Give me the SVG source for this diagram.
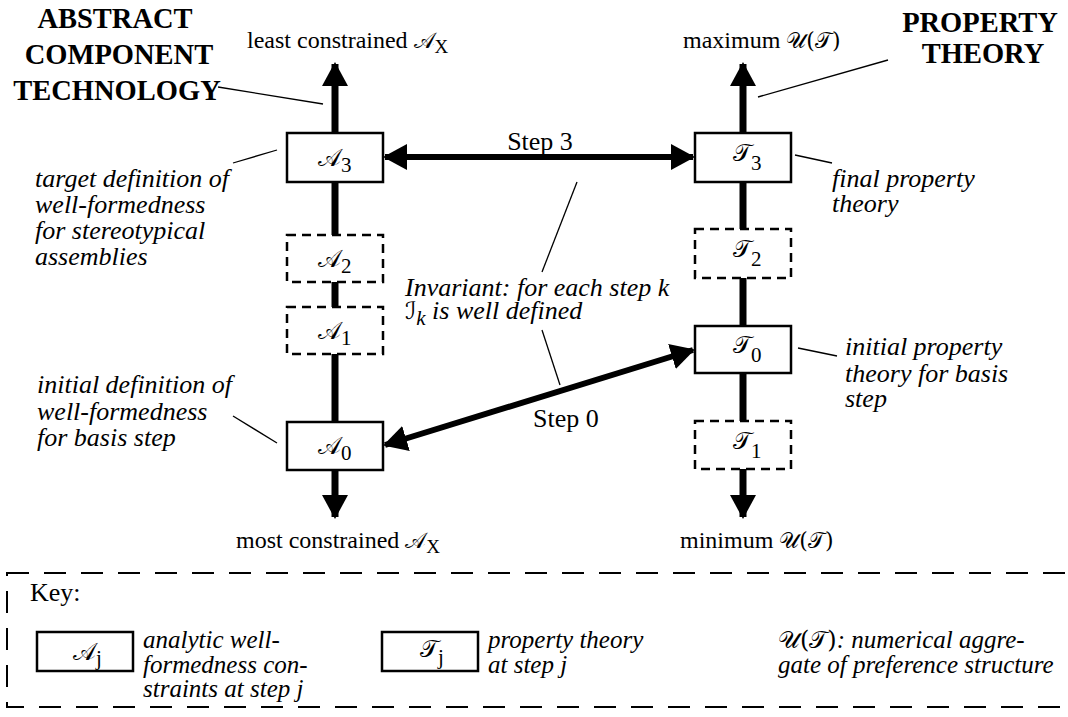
<svg xmlns="http://www.w3.org/2000/svg" width="1068" height="717" viewBox="0 0 1068 717">
<style>
  .box{fill:#fff;stroke:#000;stroke-width:2.5}
  .dbox{fill:#fff;stroke:#000;stroke-width:2.5;stroke-dasharray:9,6}
  .rm{font-family:"Liberation Serif","Times New Roman",serif;font-size:24px;fill:#000}
  .st{font-family:"Liberation Serif","Times New Roman",serif;font-size:26px;fill:#000}
  .it{font-family:"Liberation Serif","Times New Roman",serif;font-size:26px;font-style:italic;fill:#000}
  .itk{font-family:"Liberation Serif","Times New Roman",serif;font-size:25px;font-style:italic;fill:#000}
  .hd{font-family:"Liberation Serif","Times New Roman",serif;font-size:28.5px;font-weight:bold;fill:#000}
  .sc{font-family:"DejaVu Serif","DejaVu Sans",serif;font-size:24px;fill:#000;font-style:normal}
  .scs{font-family:"DejaVu Serif","DejaVu Sans",serif;font-size:22px;fill:#000;font-style:normal}
  .sub{font-family:"Liberation Serif","Times New Roman",serif;font-size:21px}
  .subs{font-family:"Liberation Serif","Times New Roman",serif;font-size:19px}
  .thick{stroke:#000;stroke-width:7;fill:none}
  .step{stroke:#000;stroke-width:6;fill:none}
  .lead{stroke:#000;stroke-width:1.3;fill:none}
</style>
<defs>
  <marker id="ah" markerUnits="userSpaceOnUse" markerWidth="24" markerHeight="26" refX="22" refY="13" orient="auto-start-reverse">
    <path d="M0,0 L24,13 L0,26 z" fill="#000"/>
  </marker>
</defs>

<g id="connectors">
  <line class="thick" x1="335" y1="133" x2="335" y2="64" marker-end="url(#ah)"/>
  <line class="thick" x1="335" y1="182" x2="335" y2="235"/>
  <line class="thick" x1="335" y1="282" x2="335" y2="307"/>
  <line class="thick" x1="335" y1="354" x2="335" y2="422"/>
  <line class="thick" x1="335" y1="470" x2="335" y2="517" marker-end="url(#ah)"/>
  <line class="thick" x1="743" y1="133" x2="743" y2="64" marker-end="url(#ah)"/>
  <line class="thick" x1="743" y1="182" x2="743" y2="229"/>
  <line class="thick" x1="743" y1="278" x2="743" y2="326"/>
  <line class="thick" x1="743" y1="373" x2="743" y2="421"/>
  <line class="thick" x1="743" y1="469" x2="743" y2="517" marker-end="url(#ah)"/>
  <line class="step" x1="385" y1="157" x2="693" y2="157" marker-start="url(#ah)" marker-end="url(#ah)"/>
  <line class="step" x1="385" y1="445" x2="693" y2="350" marker-start="url(#ah)" marker-end="url(#ah)"/>
  <line class="lead" x1="218" y1="87" x2="323" y2="104"/>
  <line class="lead" x1="888" y1="60" x2="758" y2="97"/>
  <line class="lead" x1="233" y1="163" x2="277" y2="150"/>
  <line class="lead" x1="233" y1="416" x2="277" y2="443"/>
  <line class="lead" x1="795" y1="155" x2="832" y2="163"/>
  <line class="lead" x1="798" y1="348" x2="837" y2="356"/>
  <line class="lead" x1="542" y1="272" x2="577" y2="182"/>
  <line class="lead" x1="542" y1="330" x2="560" y2="385"/>
</g>

<g id="A3"><rect class="box" x="287" y="133" width="96" height="49"/><text class="sc" x="318" y="166">𝒜<tspan class="sub" dy="6">3</tspan></text></g>
<g id="A2"><rect class="dbox" x="287" y="235" width="96" height="47"/><text class="sc" x="318" y="267">𝒜<tspan class="sub" dy="6">2</tspan></text></g>
<g id="A1"><rect class="dbox" x="287" y="307" width="96" height="47"/><text class="sc" x="318" y="339">𝒜<tspan class="sub" dy="6">1</tspan></text></g>
<g id="A0"><rect class="box" x="287" y="422" width="96" height="48"/><text class="sc" x="318" y="454">𝒜<tspan class="sub" dy="6">0</tspan></text></g>

<g id="T3"><rect class="box" x="695" y="133" width="96" height="49"/><text class="sc" x="733" y="161">𝒯<tspan class="sub" dy="9">3</tspan></text></g>
<g id="T2"><rect class="dbox" x="695" y="229" width="96" height="49"/><text class="sc" x="733" y="257">𝒯<tspan class="sub" dy="9">2</tspan></text></g>
<g id="T0"><rect class="box" x="695" y="326" width="96" height="47"/><text class="sc" x="733" y="353">𝒯<tspan class="sub" dy="9">0</tspan></text></g>
<g id="T1"><rect class="dbox" x="695" y="421" width="96" height="48"/><text class="sc" x="733" y="449">𝒯<tspan class="sub" dy="9">1</tspan></text></g>

<g id="headings">
  <text class="hd" text-anchor="middle" x="115" y="28">ABSTRACT</text>
  <text class="hd" text-anchor="middle" x="119" y="64">COMPONENT</text>
  <text class="hd" text-anchor="middle" x="117" y="100">TECHNOLOGY</text>
  <text class="hd" text-anchor="middle" x="980" y="32">PROPERTY</text>
  <text class="hd" text-anchor="middle" x="983" y="63">THEORY</text>
</g>

<g id="ends">
  <text class="rm" x="247" y="48">least constrained <tspan class="scs">𝒜</tspan><tspan class="subs" dy="5">X</tspan></text>
  <text class="rm" x="683" y="48">maximum <tspan class="scs">𝒰(𝒯)</tspan></text>
  <text class="rm" x="236" y="548">most constrained <tspan class="scs">𝒜</tspan><tspan class="subs" dy="5">X</tspan></text>
  <text class="rm" x="680" y="548">minimum <tspan class="scs">𝒰(𝒯)</tspan></text>
</g>

<g id="labels">
  <text class="st" text-anchor="middle" x="540" y="150">Step 3</text>
  <text class="st" x="533" y="427">Step 0</text>
  <text class="it" x="405" y="296">Invariant: for each step k</text>
  <text class="it" x="405" y="319"><tspan class="sc">ℐ</tspan><tspan class="sub" dy="6">k</tspan><tspan dy="-6"> is well defined</tspan></text>
</g>

<g id="annotations">
  <text class="it" x="35" y="187">target definition of</text>
  <text class="it" x="35" y="213">well-formedness</text>
  <text class="it" x="35" y="239">for stereotypical</text>
  <text class="it" x="35" y="265">assemblies</text>
  <text class="it" x="37" y="393">initial definition of</text>
  <text class="it" x="37" y="420">well-formedness</text>
  <text class="it" x="37" y="446">for basis step</text>
  <text class="it" x="832" y="187">final property</text>
  <text class="it" x="832" y="212">theory</text>
  <text class="it" x="845" y="355">initial property</text>
  <text class="it" x="845" y="382">theory for basis</text>
  <text class="it" x="845" y="407">step</text>
</g>

<g id="key">
  <rect x="7" y="573" width="1070" height="134" fill="none" stroke="#000" stroke-width="2" stroke-dasharray="22,15"/>
  <text class="st" x="30" y="601">Key:</text>
  <rect class="box" x="37" y="632" width="96" height="39"/>
  <text class="sc" x="73" y="660">𝒜<tspan class="sub" dy="5">j</tspan></text>
  <text class="itk" x="143" y="648">analytic well-</text>
  <text class="itk" x="143" y="673">formedness con-</text>
  <text class="itk" x="143" y="697">straints at step j</text>
  <rect class="box" x="382" y="632" width="96" height="39"/>
  <text class="sc" x="420" y="657">𝒯<tspan class="sub" dy="7">j</tspan></text>
  <text class="itk" x="488" y="648">property theory</text>
  <text class="itk" x="488" y="673">at step j</text>
  <text class="itk" x="778" y="648"><tspan class="sc">𝒰(𝒯)</tspan>: numerical aggre-</text>
  <text class="itk" x="778" y="673">gate of preference structure</text>
</g>
</svg>
